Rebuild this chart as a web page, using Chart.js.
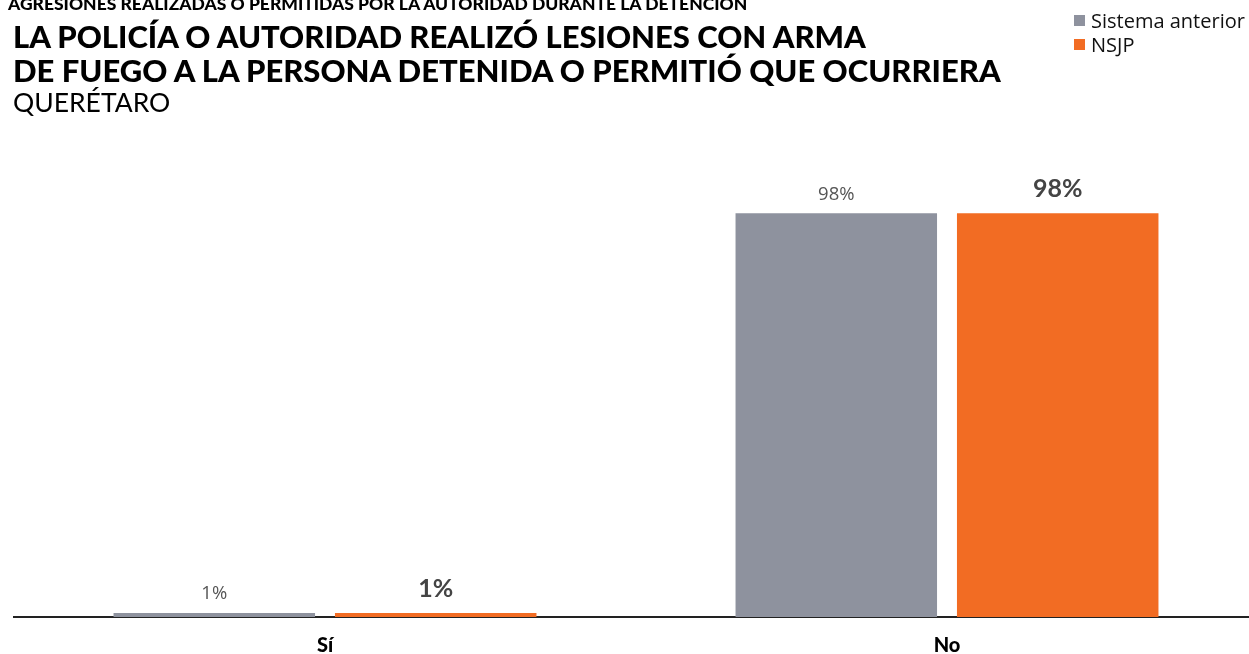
<!DOCTYPE html>
<html>
<head>
<meta charset="utf-8">
<script src="https://cdn.jsdelivr.net/npm/chart.js@4"></script>
<style>
  html, body { margin: 0; padding: 0; background: #fff; overflow: hidden; }
  body { width: 1249px; height: 654px; position: relative; font-family: Lato, sans-serif; }
  #wrap { position: absolute; left: 0; top: 0; width: 1258px; height: 654px; }
  .kicker { position: absolute; left: 8px; top: -7px; font: 900 17.5px Lato, sans-serif; color: #000; white-space: nowrap; }
  .title { position: absolute; left: 13px; top: 19px; font: 900 31px/34px Lato, sans-serif; color: #000; white-space: nowrap; }
  .sub { position: absolute; left: 13px; top: 86px; font: 400 26.5px Lato, sans-serif; color: #000; }
  #legend { position: absolute; left: 1074px; top: 8px; font: 400 20px "Open Sans", sans-serif; color: #111; }
  #legend div { display: flex; align-items: center; height: 24px; }
  #legend span.box { width: 11px; height: 11px; margin-right: 6px; display: inline-block; }
</style>
</head>
<body>
<div id="wrap"><canvas id="chart"></canvas></div>
<div class="kicker">AGRESIONES REALIZADAS O PERMITIDAS POR LA AUTORIDAD DURANTE LA DETENCIÓN</div>
<div class="title">LA POLICÍA O AUTORIDAD REALIZÓ LESIONES CON ARMA<br>DE FUEGO A LA PERSONA DETENIDA O PERMITIÓ QUE OCURRIERA</div>
<div class="sub">QUERÉTARO</div>
<div id="legend"></div>
<script>
// categories and series
const categories = ["Sí", "No"];
const seriesNames = ["Sistema anterior", "NSJP"];
const sistemaAnterior = [1, 98];
const nsjp = [1, 98];
const colors = ["#8e929e", "#f26c23"];

// legend
const legend = document.getElementById("legend");
seriesNames.forEach((name, i) => {
  legend.innerHTML += `<div><span class="box" style="background:${colors[i]}"></span>${name}</div>`;
});

// value labels above bars (gray light, orange bold)
const barLabels = {
  id: "barLabels",
  afterDatasetsDraw(chart) {
    const ctx = chart.ctx;
    ctx.save();
    ctx.textAlign = "center";
    ctx.textBaseline = "alphabetic";
    chart.data.datasets.forEach((ds, di) => {
      const meta = chart.getDatasetMeta(di);
      meta.data.forEach((bar, i) => {
        const txt = Math.round(ds.data[i]) + "%";
        if (di === 0) {
          ctx.font = "400 18.5px 'Open Sans', sans-serif";
          ctx.fillStyle = "#555";
          ctx.fillText(txt, bar.x, bar.y - 13.5);
        } else {
          ctx.font = "700 25px Lato, sans-serif";
          ctx.fillStyle = "#444";
          ctx.fillText(txt, bar.x, bar.y - 16);
        }
      });
    });
    ctx.restore();
  }
};

new Chart(document.getElementById("chart"), {
  type: "bar",
  data: {
    labels: categories,
    datasets: [
      { label: seriesNames[0], data: sistemaAnterior, backgroundColor: colors[0] },
      { label: seriesNames[1], data: nsjp, backgroundColor: colors[1] }
    ]
  },
  options: {
    responsive: true,
    maintainAspectRatio: false,
    animation: false,
    categoryPercentage: 0.712,
    barPercentage: 0.91,
    layout: { padding: { left: 14, right: 0, top: 205, bottom: 0 } },
    plugins: { legend: { display: false }, tooltip: { enabled: false } },
    scales: {
      x: {
        grid: { display: false },
        border: { display: true, color: "#222", width: 2 },
        ticks: { color: "#000", font: { family: "Lato", size: 20, weight: "900" }, padding: 9 },
        afterFit(scale) { scale.height = 37; }
      },
      y: { display: false, min: 0, max: 100 }
    }
  },
  plugins: [barLabels]
});
</script>
</body>
</html>
